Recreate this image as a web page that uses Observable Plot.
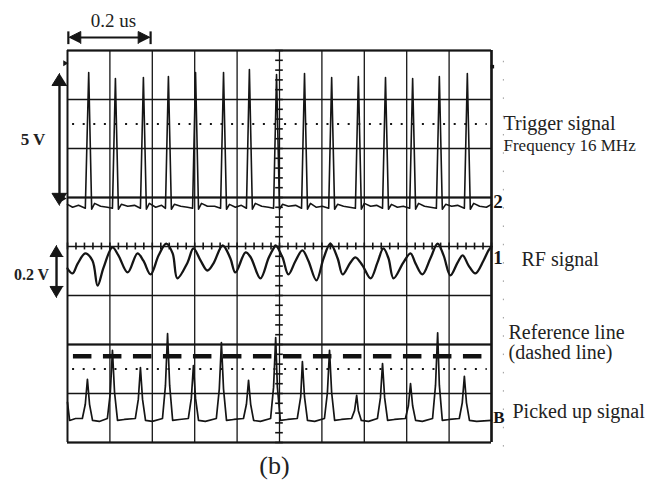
<!DOCTYPE html>
<html>
<head>
<meta charset="utf-8">
<script src="https://cdn.jsdelivr.net/npm/d3@7"></script>
<script src="https://cdn.jsdelivr.net/npm/@observablehq/plot@0.6"></script>
<style>
html, body { margin: 0; padding: 0; background: #fff; }
#chart svg { display: block; }
</style>
</head>
<body>
<div id="chart"></div>
<script>
// Time in microseconds (0.1 us per division), amplitude in screen divisions.
const xGrid = [0, 0.1, 0.2, 0.3, 0.4, 0.5, 0.6, 0.7, 0.8, 0.9, 1];
const yGrid = [-4, -3, -2, -1, 0, 1, 2, 3, 4];
const dottedLevels = [2.5, -2.5];
const refLevel = -2.24;

// Channel 2: trigger signal, 16 MHz pulse train
const trigger = [
  [0,.86],[.012,.80],[.026,.84],
  [.042,.78],[.050,3.55],[.057,.76],[.064,.88],[.078,.82],[.094,.80],
  [.106,.78],[.113,3.43],[.120,.76],[.127,.86],[.142,.82],[.158,.84],
  [.172,.78],[.179,3.45],[.186,.76],[.193,.88],[.208,.80],[.222,.84],
  [.231,.78],[.238,3.47],[.245,.76],[.252,.86],[.267,.82],[.283,.80],
  [.295,.78],[.302,3.55],[.309,.76],[.316,.88],[.330,.82],[.347,.82],
  [.361,.78],[.368,3.55],[.375,.76],[.382,.86],[.396,.80],[.410,.84],
  [.422,.78],[.429,3.61],[.436,.76],[.443,.88],[.458,.82],[.474,.80],
  [.486,.78],[.493,3.51],[.500,.76],[.507,.86],[.521,.82],[.538,.84],
  [.552,.78],[.559,3.53],[.566,.76],[.573,.88],[.587,.80],[.601,.82],
  [.616,.78],[.623,3.45],[.630,.76],[.637,.86],[.651,.82],[.665,.80],
  [.679,.78],[.686,3.47],[.693,.76],[.700,.88],[.715,.82],[.729,.84],
  [.743,.78],[.750,3.45],[.757,.76],[.764,.86],[.778,.80],[.792,.82],
  [.807,.78],[.814,3.43],[.821,.76],[.828,.88],[.842,.82],[.856,.80],
  [.870,.78],[.877,3.47],[.884,.76],[.892,.86],[.906,.82],[.920,.84],
  [.936,.78],[.943,3.53],[.950,.76],[.958,.88],[.972,.82],[.988,.80],
  [1,.86]
];

// Channel 1: RF signal
const rf = [
  [0,-.45],[.012,-.55],[.024,-.35],[.042,-.14],[.059,-.29],[.071,-.80],
  [.085,-.43],[.106,-.02],[.120,-.18],[.142,-.53],[.165,-.14],[.179,-.29],
  [.196,-.57],[.215,-.18],[.233,.06],[.248,-.14],[.259,-.65],[.283,-.33],
  [.297,-.04],[.314,-.29],[.330,-.49],[.344,-.35],[.366,.02],[.384,-.24],
  [.396,-.53],[.420,-.12],[.432,-.22],[.455,-.65],[.474,-.24],[.486,-.04],
  [.491,.02],[.507,-.22],[.521,-.57],[.538,-.29],[.554,-.08],[.568,-.29],
  [.587,-.69],[.604,-.24],[.620,.06],[.637,-.24],[.649,-.57],[.667,-.33],
  [.679,-.22],[.696,-.39],[.715,-.65],[.731,-.33],[.745,-.04],[.757,-.24],
  [.769,-.65],[.792,-.33],[.809,-.14],[.821,-.35],[.837,-.57],[.856,-.24],
  [.873,.06],[.887,-.18],[.903,-.59],[.920,-.33],[.932,-.18],[.946,-.39],
  [.962,-.55],[.981,-.29],[.993,-.08],[1,0]
];

// Channel 3: picked up signal
const pickup = [
  [0,-3.18],[.005,-3.55],[.019,-3.51],
  [.035,-3.51],[.042,-3.22],[.047,-2.71],[.052,-3.22],[.059,-3.55],[.075,-3.57],
  [.094,-3.51],[.101,-2.98],[.106,-2.12],[.111,-2.98],[.118,-3.55],[.134,-3.53],
  [.160,-3.51],[.167,-3.12],[.172,-2.47],[.177,-3.12],[.184,-3.55],[.200,-3.57],
  [.224,-3.51],[.231,-2.84],[.236,-1.78],[.241,-2.84],[.248,-3.55],[.264,-3.53],
  [.285,-3.51],[.292,-3.10],[.297,-2.43],[.302,-3.10],[.309,-3.55],[.325,-3.57],
  [.351,-3.51],[.358,-2.91],[.363,-1.96],[.368,-2.91],[.375,-3.55],[.392,-3.53],
  [.415,-3.51],[.422,-3.22],[.427,-2.73],[.432,-3.22],[.439,-3.55],[.455,-3.57],
  [.479,-3.51],[.486,-2.87],[.491,-1.86],[.495,-2.87],[.502,-3.55],[.519,-3.53],
  [.542,-3.51],[.550,-3.07],[.554,-2.35],[.559,-3.07],[.566,-3.55],[.583,-3.57],
  [.606,-3.51],[.613,-2.98],[.618,-2.12],[.623,-2.98],[.630,-3.55],[.646,-3.53],
  [.670,-3.51],[.677,-3.35],[.682,-3.04],[.686,-3.35],[.693,-3.55],[.710,-3.57],
  [.731,-3.51],[.738,-3.09],[.743,-2.39],[.748,-3.09],[.755,-3.55],[.771,-3.53],
  [.797,-3.51],[.804,-3.25],[.809,-2.80],[.814,-3.25],[.821,-3.55],[.837,-3.57],
  [.861,-3.51],[.868,-2.83],[.873,-1.76],[.877,-2.83],[.884,-3.55],[.901,-3.53],
  [.924,-3.51],[.931,-3.19],[.936,-2.65],[.941,-3.19],[.948,-3.55],[.965,-3.57],
  [1,-3.55]
];

// Minor graticule ticks on the centre axes
const centreYTicks = d3.range(-4, 4.0001, 0.2);
const centreXTicks = d3.range(0, 1.0001, 0.02);

// arrowhead polygons (pixel sizes converted to data units: 424 px per us, 49 px per division)
const PX = 1 / 424, PY = 1 / 49;
function head(id, t, v, dir, len = 12, half = 6.5) {
  if (dir === "up") return [[id, t, v], [id, t - half * PX, v - len * PY], [id, t + half * PX, v - len * PY]];
  if (dir === "down") return [[id, t, v], [id, t - half * PX, v + len * PY], [id, t + half * PX, v + len * PY]];
  if (dir === "left") return [[id, t, v], [id, t + len * PX, v + half * PY], [id, t + len * PX, v - half * PY]];
  return [[id, t, v], [id, t - len * PX, v + half * PY], [id, t - len * PX, v - half * PY]];
}
const heads = [
  ...head("a", 0.003, 4.265, "left", 12, 6),
  ...head("b", 0.195, 4.265, "right", 12, 6),
  ...head("c", -0.0189, 3.53, "up", 12, 7.5),
  ...head("d", -0.0189, 0.84, "down", 12, 7.5),
  ...head("e", -0.0259, 0.02, "up", 11, 6.5),
  ...head("f", -0.0259, -1.04, "down", 11, 6.5)
];

const serif = "'Liberation Serif', 'Times New Roman', Times, serif";
const ink = "#151515";

const chart = Plot.plot({
  width: 663,
  height: 485,
  marginLeft: 67,
  marginRight: 172,
  marginTop: 50,
  marginBottom: 43,
  x: { domain: [0, 1], axis: null },
  y: { domain: [-4, 4], axis: null },
  style: { fontFamily: serif, background: "#fff", color: ink, overflow: "visible" },
  marks: [
    // graticule
    Plot.ruleX(xGrid, { y1: -4, y2: 4, stroke: ink, strokeWidth: 1.3 }),
    Plot.ruleY(yGrid, { x1: 0, x2: 1, stroke: ink, strokeWidth: 1.3 }),
    Plot.ruleY([-2, 1], { x1: 0, x2: 1, stroke: ink, strokeWidth: 2 }),
    Plot.ruleX([0], { y1: -4, y2: 4, stroke: ink, strokeWidth: 1.8 }),
    Plot.ruleX([1], { y1: -4, y2: 4, stroke: ink, strokeWidth: 2.6 }),
    Plot.ruleY([4, -4], { x1: 0, x2: 1, stroke: ink, strokeWidth: 2.2 }),
    // centre axis minor ticks
    Plot.ruleY(centreYTicks, { x1: 0.5 - 0.009, x2: 0.5 + 0.009, stroke: ink, strokeWidth: 1.6 }),
    Plot.ruleX(centreXTicks, { y1: -0.07, y2: 0.07, stroke: ink, strokeWidth: 1.6 }),
    // 50% dotted markers
    Plot.ruleY(dottedLevels, { x1: 0.012, x2: 0.99, stroke: ink, strokeWidth: 2, strokeDasharray: "2,8.6" }),
    // reference (dashed) line
    Plot.ruleY([refLevel], { x1: 0.014, x2: 0.982, stroke: "#111", strokeWidth: 4.5, strokeDasharray: "18.5,11.5" }),
    // faint scan dots right of the screen
    Plot.ruleX([1.028], { y1: 3.78, y2: -4.1, stroke: "#999", strokeWidth: 1, strokeDasharray: "1.5,16.8" }),
    // traces
    Plot.line(trigger, { x: d => d[0], y: d => d[1], stroke: ink, strokeWidth: 1.6 }),
    Plot.line(rf, { x: d => d[0], y: d => d[1], stroke: ink, strokeWidth: 2.3, curve: "catmull-rom" }),
    Plot.line(pickup, { x: d => d[0], y: d => d[1], stroke: ink, strokeWidth: 1.7 }),
    // channel markers
    Plot.text(["2"], { x: 1.004, y: 0.78, text: d => d, textAnchor: "start", lineAnchor: "bottom", fontSize: 19, fontWeight: "bold", fill: ink }),
    Plot.text(["1"], { x: 1.004, y: -0.35, text: d => d, textAnchor: "start", lineAnchor: "bottom", fontSize: 19, fontWeight: "bold", fill: ink }),
    Plot.text(["B"], { x: 1.004, y: -3.61, text: d => d, textAnchor: "start", lineAnchor: "bottom", fontSize: 17, fontWeight: "bold", fill: ink }),
    // small trace markers at the screen edges
    Plot.dot([0], { x: -0.006, y: 3.74, symbol: "triangle", r: 2.2, rotate: 90, fill: ink }),
    Plot.dot([0], { x: -0.01, y: 0.98, symbol: "triangle", r: 2.2, rotate: 90, fill: ink }),
    Plot.dot([0], { x: 1.002, y: 3.67, symbol: "square", r: 2, fill: ink }),
    // time scale bar
    Plot.ruleY([4.265], { x1: 0.01, x2: 0.19, stroke: ink, strokeWidth: 2.2 }),
    Plot.ruleX([0.002, 0.196], { y1: 4.12, y2: 4.38, stroke: ink, strokeWidth: 2.2 }),
    // voltage scale bars
    Plot.ruleX([-0.0189], { y1: 3.35, y2: 1.0, stroke: ink, strokeWidth: 2.4 }),
    Plot.ruleX([-0.0259], { y1: -0.1, y2: -0.9, stroke: ink, strokeWidth: 2.4 }),
    Plot.line(heads, { x: d => d[1], y: d => d[2], z: d => d[0], fill: ink, stroke: ink, strokeWidth: 1 }),
    // annotation texts
    Plot.text(["0.2 us"], { x: 0.1085, y: 4.48, text: d => d, textAnchor: "middle", lineAnchor: "bottom", fontSize: 19, fill: "#222" }),
    Plot.text(["5 V"], { x: -0.0814, y: 2.08, text: d => d, textAnchor: "middle", lineAnchor: "bottom", fontSize: 17, fontWeight: "bold", fill: "#222" }),
    Plot.text(["0.2 V"], { x: -0.0849, y: -0.69, text: d => d, textAnchor: "middle", lineAnchor: "bottom", fontSize: 16, fontWeight: "bold", fill: "#222" }),
    Plot.text(["Trigger signal"], { x: 1.0283, y: 2.378, text: d => d, textAnchor: "start", lineAnchor: "bottom", fontSize: 20, fill: "#222" }),
    Plot.text(["Frequency 16 MHz"], { x: 1.0283, y: 1.959, text: d => d, textAnchor: "start", lineAnchor: "bottom", fontSize: 17, fill: "#222" }),
    Plot.text(["RF signal"], { x: 1.0708, y: -0.408, text: d => d, textAnchor: "start", lineAnchor: "bottom", fontSize: 20, fill: "#222" }),
    Plot.text(["Reference line"], { x: 1.0401, y: -1.878, text: d => d, textAnchor: "start", lineAnchor: "bottom", fontSize: 20, fill: "#222" }),
    Plot.text(["(dashed line)"], { x: 1.0401, y: -2.306, text: d => d, textAnchor: "start", lineAnchor: "bottom", fontSize: 20, fill: "#222" }),
    Plot.text(["Picked up signal"], { x: 1.0495, y: -3.51, text: d => d, textAnchor: "start", lineAnchor: "bottom", fontSize: 20, fill: "#222" }),
    Plot.text(["(b)"], { x: 0.488, y: -4.633, text: d => d, textAnchor: "middle", lineAnchor: "bottom", fontSize: 26, fill: "#222" })
  ]
});
document.getElementById("chart").appendChild(chart);
</script>
</body>
</html>
